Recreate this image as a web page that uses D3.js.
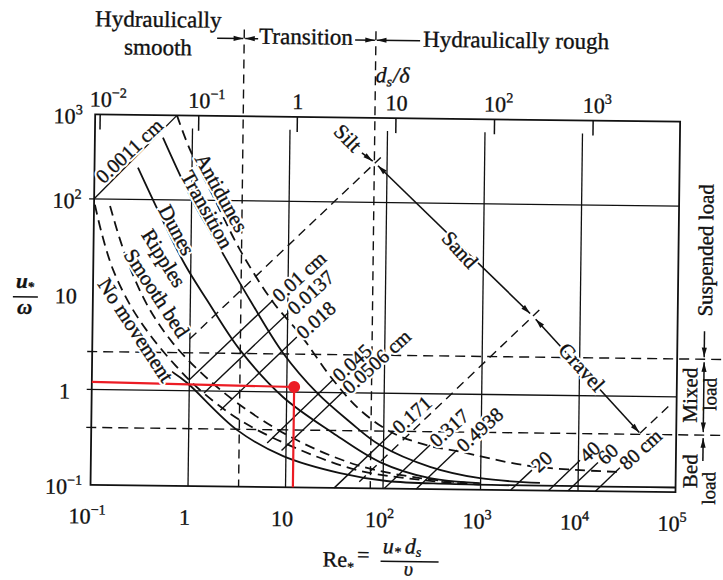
<!DOCTYPE html>
<html>
<head>
<meta charset="utf-8">
<script src="https://cdn.jsdelivr.net/npm/d3@7/dist/d3.min.js"></script>
<style>
  html, body { margin: 0; padding: 0; background: #fff; }
  svg { display: block; font-family: "Liberation Serif", "Times New Roman", serif; }
  text { fill: #111; stroke: #111; stroke-width: 0.35px; }
  text.back { fill: #fff; stroke: #fff; stroke-width: 4.5px; stroke-linejoin: round; }
</style>
</head>
<body>
<svg id="svg_bed" width="723" height="580"></svg>
<script>

// axis ticks
const reTicks = [0.1, 1, 10, 100, 1000, 10000, 100000];
const reTickLabels = [['10', '−1'], ['1', ''], ['10', ''], ['10', '2'], ['10', '3'], ['10', '4'], ['10', '5']];
const uTicks = [0.1, 1, 10, 100, 1000];
const uTickLabels = [['10', '−1'], ['1', ''], ['10', ''], ['10', '2'], ['10', '3']];
const dsTicks = [0.01, 0.1, 1, 10, 100, 1000];
const dsTickLabels = [['10', '−2'], ['10', '−1'], ['1', ''], ['10', ''], ['10', '2'], ['10', '3']];
const uTop = 770;

// reference lines
const gridRe = [1, 10, 100, 1000, 10000];
const gridU = [1, 100];
const regimeRe = [3.3, 74];
const loadU = [2.5, 0.4];

// bedform boundaries, [Re*, u*/w]
const threshold = [[0.662, 1.57], [0.946, 1.21], [3.12, 0.394], [9.38, 0.212], [36.1, 0.143], [109, 0.120], [485, 0.114], [100000, 0.112]];
const noMovement = [[0.102, 86.7], [0.122, 42.1], [0.160, 18.1], [0.241, 7.82], [0.390, 3.80], [0.708, 1.86], [1.29, 1.02], [3.34, 0.50], [11.0, 0.274], [53.7, 0.155], [238, 0.125], [980, 0.113]];
const smoothBed = [[0.146, 84.5], [0.187, 37.4], [0.256, 16.1], [0.386, 6.97], [0.655, 3.24], [1.28, 1.59], [3.33, 0.72], [11.7, 0.329], [53.5, 0.175], [238, 0.130], [700, 0.118]];
const ripplesDunes = [[0.279, 215], [0.477, 69.3], [0.873, 20.9], [1.48, 9.0], [3.27, 2.72], [9.16, 0.885], [30.1, 0.377], [92.3, 0.189], [302, 0.130], [984, 0.117]];
const dunesTransition = [[0.499, 447], [1.01, 100.5], [1.76, 38.5], [4.08, 9.12], [9.06, 2.56], [20.5, 0.986], [44.9, 0.494], [91.8, 0.285], [301, 0.171], [984, 0.132], [4060, 0.12]];
const transitionAntidunes = [[0.69, 770], [0.95, 336], [1.74, 101], [3.18, 30.5], [7.03, 8.75], [13.4, 4.08], [29.7, 1.36], [56.8, 0.662], [124, 0.383], [300, 0.283], [568, 0.252], [3180, 0.18], [26800, 0.16]];

// grain size lines
const grainSizes = ['0.0011 cm', '0.01 cm', '0.0137', '0.018', '0.045', '0.0506 cm', '0.171', '0.317', '0.4938', '20', '40', '60', '80 cm'];
const grainFrom = [[0.1, 100], [1.0, 1.3], [1.42, 0.95], [2.1, 0.63], [6.4, 0.29], [9.0, 0.243], [31.6, 0.1], [103, 0.1], [219, 0.1], [2040, 0.1], [5000, 0.1], [7900, 0.1], [15100, 0.1]];
const grainTo = [[0.69, 770], [7.03, 9.14], [10.07, 6.75], [12.5, 3.78], [29.7, 1.36], [37.7, 1.02], [124, 0.393], [300, 0.29], [568, 0.259], [3350, 0.163], [10400, 0.21], [15900, 0.20], [26700, 0.177]];

// silt / sand / gravel
const classNames = ['Silt', 'Sand', 'Gravel'];
const classRe = [75.3, 3280, 42500];
const classU = [259, 6.7, 0.41];
const siltTail = [55, 329];
const siltLimit = [[1.0, 3.5], [86, 296]];
const sandLimit = [[57, 0.117], [3800, 7.8]];
const gravelLimit = [[42500, 0.41], [89600, 0.86]];

// marked point
const markLine = [[0.1, 1.2], [11.9, 1.13], [11.9, 0.1]];


function chartBedforms(_svg) {

  // variables
  const svg = d3.select(`#svg_${_svg}`);
  const width = 723,
    height = 580,
    padLeft = 93,
    padRight = 45,
    padTop = 117.7,
    padBottom = 91.8;
  const right = width - padRight;
  const bottom = height - padBottom;
  const ink = '#111';

  // scales
  const x = d3.scaleLog().domain([0.1, 1e5]).range([padLeft, right]);
  const y = d3.scaleLog().domain([0.1, uTop]).range([bottom, padTop]);
  const xTop = d3.scaleLog().domain([0.01, 1000]).range([98, 591]);

  const line = d3.line()
    .x(d => x(d[0]))
    .y(d => y(d[1]))
    .curve(d3.curveCatmullRom.alpha(0.5));

  // arrow head
  const defs = svg.append('defs');
  defs.append('marker')
    .attr('id', 'ah')
    .attr('viewBox', '0 -5 12 10')
    .attr('refX', 12)
    .attr('refY', 0)
    .attr('markerUnits', 'userSpaceOnUse')
    .attr('markerWidth', 11)
    .attr('markerHeight', 8)
    .attr('orient', 'auto-start-reverse')
    .append('path')
    .attr('d', 'M0,-3.2L12,0L0,3.2Z')
    .attr('fill', ink);

  // the scan sits slightly rotated
  const g = svg.append('g').attr('transform', 'rotate(0.72,361,290)');
  g.selectAll('.layers').data(['bg', 'lines', 'labels'])
    .join('g')
    .attr('class', 'layers')
    .attr('id', d => d);
  const bg = g.select('#bg');
  const lines = g.select('#lines');
  const labels = g.select('#labels');

  // grid
  bg.selectAll('.vgrid').data(gridRe)
    .join('line')
    .attr('class', 'vgrid')
    .attr('x1', d => x(d)).attr('x2', d => x(d))
    .attr('y1', padTop + 13).attr('y2', bottom)
    .attr('stroke', ink).attr('stroke-width', 1.3);

  bg.selectAll('.hgrid').data(gridU)
    .join('line')
    .attr('class', 'hgrid')
    .attr('x1', padLeft - 5).attr('x2', right)
    .attr('y1', d => y(d)).attr('y2', d => y(d))
    .attr('stroke', ink).attr('stroke-width', 1.3);

  bg.append('rect')
    .attr('x', padLeft).attr('y', padTop)
    .attr('width', right - padLeft).attr('height', bottom - padTop)
    .attr('fill', 'none').attr('stroke', ink).attr('stroke-width', 1.8);

  // top ticks (ds/delta)
  bg.selectAll('.dtick').data(dsTicks)
    .join('line')
    .attr('class', 'dtick')
    .attr('x1', d => xTop(d)).attr('x2', d => xTop(d))
    .attr('y1', padTop).attr('y2', padTop + 15)
    .attr('stroke', ink).attr('stroke-width', 1.5);

  // smooth / transition / rough limits
  bg.selectAll('.regime').data(regimeRe)
    .join('line')
    .attr('class', 'regime')
    .attr('x1', d => x(d)).attr('x2', d => x(d))
    .attr('y1', 31).attr('y2', bottom)
    .attr('stroke', ink).attr('stroke-width', 1.4)
    .attr('stroke-dasharray', '9,6');

  // suspended / mixed / bed load limits
  bg.selectAll('.load').data(loadU)
    .join('line')
    .attr('class', 'load')
    .attr('x1', padLeft - 5).attr('x2', width + 4)
    .attr('y1', d => y(d)).attr('y2', d => y(d))
    .attr('stroke', ink).attr('stroke-width', 1.4)
    .attr('stroke-dasharray', '10,6');

  // bedform curves
  const curveSet = [
    { pts: threshold, dash: false },
    { pts: noMovement, dash: true },
    { pts: smoothBed, dash: true },
    { pts: ripplesDunes, dash: false },
    { pts: dunesTransition, dash: false },
    { pts: transitionAntidunes, dash: true }
  ];
  lines.selectAll('.curve').data(curveSet)
    .join('path')
    .attr('class', 'curve')
    .attr('d', d => line(d.pts))
    .attr('fill', 'none')
    .attr('stroke', ink)
    .attr('stroke-width', 1.8)
    .attr('stroke-dasharray', d => d.dash ? '10,6' : null);

  // grain size lines
  lines.selectAll('.grain').data(grainSizes)
    .join('line')
    .attr('class', 'grain')
    .attr('x1', (d, i) => x(grainFrom[i][0])).attr('y1', (d, i) => y(grainFrom[i][1]))
    .attr('x2', (d, i) => x(grainTo[i][0])).attr('y2', (d, i) => y(grainTo[i][1]))
    .attr('stroke', ink).attr('stroke-width', 1.4);

  // class limit lines (dashed)
  lines.selectAll('.limit').data([siltLimit, sandLimit, gravelLimit])
    .join('line')
    .attr('class', 'limit')
    .attr('x1', d => x(d[0][0])).attr('y1', d => y(d[0][1]))
    .attr('x2', d => x(d[1][0])).attr('y2', d => y(d[1][1]))
    .attr('stroke', ink).attr('stroke-width', 1.4)
    .attr('stroke-dasharray', '9,6');

  // silt - sand - gravel arrows
  function seg(p, q, g0, g1) {
    const x1 = x(p[0]), y1 = y(p[1]), x2 = x(q[0]), y2 = y(q[1]);
    const L = Math.hypot(x2 - x1, y2 - y1);
    const ux = (x2 - x1) / L, uy = (y2 - y1) / L;
    return [x1 + ux * g0, y1 + uy * g0, x2 - ux * g1, y2 - uy * g1];
  }
  const P = classRe.map((d, i) => [d, classU[i]]);
  const arrows = [
    { s: seg(siltTail, P[0], 0, 3), a: false, b: true },
    { s: seg(P[0], P[1], 4, 4), a: true, b: true },
    { s: seg(P[1], P[2], 4, 1), a: true, b: true }
  ];
  lines.selectAll('.cls').data(arrows)
    .join('line')
    .attr('class', 'cls')
    .attr('x1', d => d.s[0]).attr('y1', d => d.s[1])
    .attr('x2', d => d.s[2]).attr('y2', d => d.s[3])
    .attr('stroke', ink).attr('stroke-width', 1.6)
    .attr('marker-start', d => d.a ? 'url(#ah)' : null)
    .attr('marker-end', d => d.b ? 'url(#ah)' : null);

  // marked point
  lines.append('path')
    .attr('d', d3.line().x(d => x(d[0])).y(d => y(d[1]))(markLine))
    .attr('fill', 'none')
    .attr('stroke', '#ec1c24')
    .attr('stroke-width', 2.2);
  lines.append('circle')
    .attr('cx', x(markLine[1][0])).attr('cy', y(markLine[1][1]))
    .attr('r', 6)
    .attr('fill', '#ec1c24');

  // labels along curves (white backing first, then ink)
  const curveNotes = [
    { t: 'Antidunes', re: 2.03, u: 121, a: 60 },
    { t: 'Transition', re: 1.45, u: 80, a: 60 },
    { t: 'Dunes', re: 0.714, u: 48.4, a: 61 },
    { t: 'Ripples', re: 0.530, u: 24.5, a: 57 },
    { t: 'Smooth bed', re: 0.453, u: 10.5, a: 56 },
    { t: 'No movement', re: 0.279, u: 4.27, a: 56 },
    { t: classNames[0], re: 39.5, u: 471, a: 45 },
    { t: classNames[1], re: 574, u: 32.8, a: 47 },
    { t: classNames[2], re: 10600, u: 2.0, a: 47 }
  ];
  ['back', 'front'].forEach(k => {
    labels.selectAll(`.cnote.${k}`).data(curveNotes)
      .join('text')
      .attr('class', `cnote ${k}`)
      .attr('transform', d => `translate(${x(d.re)},${y(d.u)}) rotate(${d.a})`)
      .attr('text-anchor', 'middle')
      .attr('dy', '0.35em')
      .style('font-size', '21px')
      .text(d => d.t);
  });

  // grain labels
  ['back', 'front'].forEach(k => {
    labels.selectAll(`.gnote.${k}`).data(grainSizes)
      .join('text')
      .attr('class', `gnote ${k}`)
      .attr('transform', (d, i) => i == 0
        ? `translate(${x(0.225)},${y(323)}) rotate(-44)`
        : `translate(${x(grainTo[i][0])},${y(grainTo[i][1])}) rotate(-43)`)
      .attr('text-anchor', (d, i) => i == 0 ? 'middle' : 'start')
      .attr('dx', (d, i) => i == 0 ? 0 : 3)
      .attr('dy', '0.35em')
      .style('font-size', '20px')
      .text(d => d);
  });

  // tick labels
  function supText(sel, size) {
    sel.append('tspan').text(d => d[0]);
    sel.append('tspan')
      .attr('dy', -size * 0.42)
      .style('font-size', (size * 0.64) + 'px')
      .text(d => d[1]);
  }

  labels.selectAll('.xlab').data(reTickLabels)
    .join('text')
    .attr('class', 'xlab')
    .attr('x', (d, i) => x(reTicks[i]) - 3)
    .attr('y', 527)
    .attr('text-anchor', 'middle')
    .style('font-size', '22px')
    .call(supText, 22);

  labels.selectAll('.ylab').data(uTickLabels)
    .join('text')
    .attr('class', 'ylab')
    .attr('x', 66)
    .attr('y', (d, i) => y(Math.min(uTicks[i], uTop)) + 9.5)
    .attr('text-anchor', 'middle')
    .style('font-size', '22px')
    .call(supText, 22);

  labels.selectAll('.dlab').data(dsTickLabels)
    .join('text')
    .attr('class', 'dlab')
    .attr('x', (d, i) => xTop(dsTicks[i]) - d[0].length * 5.3)
    .attr('y', 110)
    .style('font-size', '22px')
    .call(supText, 22);

  // top axis title
  const dsTitle = labels.append('text')
    .attr('x', 373).attr('y', 82)
    .style('font-size', '22px')
    .style('font-style', 'italic');
  dsTitle.append('tspan').text('d');
  dsTitle.append('tspan').attr('dy', 4).style('font-size', '14px').text('s');
  dsTitle.append('tspan').attr('dy', -4).attr('dx', 1).text('/δ');

  // y title
  const yt = labels.append('g').attr('transform', 'translate(25,301)');
  const yNum = yt.append('text').attr('y', -9).attr('text-anchor', 'middle')
    .style('font-size', '21px').style('font-style', 'italic').style('font-weight', 'bold');
  yNum.append('tspan').text('u');
  yNum.append('tspan').attr('dy', 3).style('font-size', '13px').text('*');
  yt.append('line').attr('x1', -12).attr('x2', 13).attr('stroke', ink).attr('stroke-width', 1.5);
  yt.append('text').attr('y', 17).attr('text-anchor', 'middle')
    .style('font-size', '21px').style('font-style', 'italic').style('font-weight', 'bold')
    .text('ω');

  // x title
  const xt = labels.append('g').attr('transform', 'translate(326,567)');
  const reT = xt.append('text').style('font-size', '22px');
  reT.append('tspan').text('Re');
  reT.append('tspan').attr('dy', 5).style('font-size', '14px').text('*');
  reT.append('tspan').attr('dy', -10).attr('dx', 3).text('=');
  const num = xt.append('text').attr('x', 60).attr('y', -14).style('font-size', '22px').style('font-style', 'italic');
  num.append('tspan').text('u');
  num.append('tspan').attr('dy', 3).style('font-size', '14px').text('*');
  num.append('tspan').attr('dy', -3).attr('dx', 4).text('d');
  num.append('tspan').attr('dy', 3).style('font-size', '14px').text('s');
  xt.append('line').attr('x1', 58).attr('x2', 116).attr('y1', -6).attr('y2', -6)
    .attr('stroke', ink).attr('stroke-width', 1.5);
  xt.append('text').attr('x', 86).attr('y', 8).attr('text-anchor', 'middle')
    .style('font-size', '20px').style('font-style', 'italic').text('υ');

  // header
  const head = [
    { t: 'Hydraulically', x: 155, y: 29.5, anchor: 'middle' },
    { t: 'smooth', x: 155, y: 57.5, anchor: 'middle' },
    { t: 'Transition', x: 256, y: 45, anchor: 'start' },
    { t: 'Hydraulically rough', x: 420, y: 46, anchor: 'start' }
  ];
  labels.selectAll('.head').data(head)
    .join('text')
    .attr('class', 'head')
    .attr('x', d => d.x).attr('y', d => d.y)
    .attr('text-anchor', d => d.anchor)
    .style('font-size', '23px')
    .text(d => d.t);

  const headArrows = [
    [214, x(regimeRe[0]) - 1],
    [255, x(regimeRe[0]) + 1],
    [352, x(regimeRe[1]) - 1],
    [417, x(regimeRe[1]) + 1]
  ];
  labels.selectAll('.harrow').data(headArrows)
    .join('line')
    .attr('class', 'harrow')
    .attr('x1', d => d[0]).attr('x2', d => d[1])
    .attr('y1', 40).attr('y2', 40)
    .attr('stroke', ink).attr('stroke-width', 1.5)
    .attr('marker-end', 'url(#ah)');

  // load mode notes on the right
  const ax = 705;
  const loadArrows = [
    { y1: y(loadU[0]) - 28, y2: y(loadU[0]) - 2, both: false },
    { y1: y(loadU[0]) + 3, y2: y(loadU[1]) - 3, both: true },
    { y1: y(loadU[1]) + 26, y2: y(loadU[1]) + 3, both: false }
  ];
  labels.selectAll('.larrow').data(loadArrows)
    .join('line')
    .attr('class', 'larrow')
    .attr('x1', ax).attr('x2', ax)
    .attr('y1', d => d.y1).attr('y2', d => d.y2)
    .attr('stroke', ink).attr('stroke-width', 1.5)
    .attr('marker-start', d => d.both ? 'url(#ah)' : null)
    .attr('marker-end', 'url(#ah)');

  const loadNotes = [
    { t: 'Suspended load', x: 705, y: 246, s: 21 },
    { t: 'Mixed', x: 691, y: 391, s: 21 },
    { t: 'load', x: 711, y: 390, s: 19 },
    { t: 'Bed', x: 692, y: 467, s: 21 },
    { t: 'load', x: 711, y: 484, s: 19 }
  ];
  labels.selectAll('.lnote').data(loadNotes)
    .join('text')
    .attr('class', 'lnote')
    .attr('transform', d => `translate(${d.x},${d.y}) rotate(-90)`)
    .attr('text-anchor', 'middle')
    .attr('dy', '0.35em')
    .style('font-size', d => d.s + 'px')
    .text(d => d.t);
}

chartBedforms('bed');
</script>
</body>
</html>
